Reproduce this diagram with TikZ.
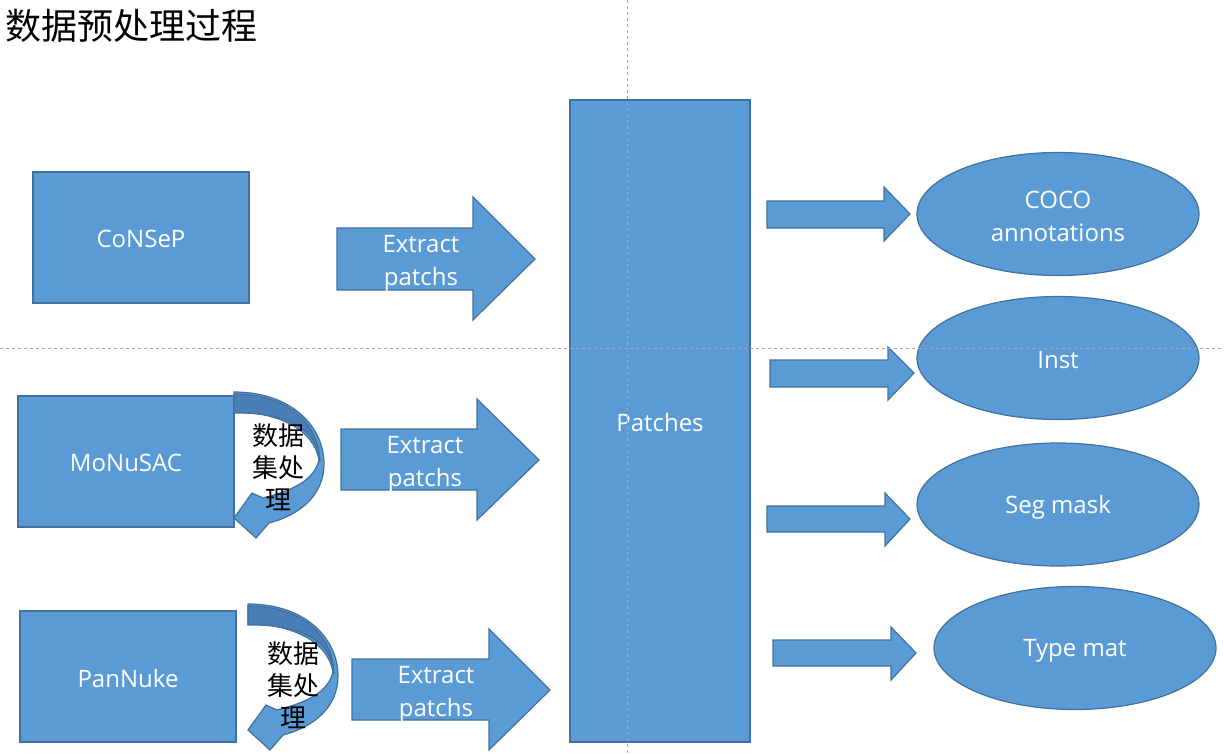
\documentclass[tikz,border=0pt]{standalone}
\usepackage{fontspec}
\setmainfont{Open Sans}
\newfontfamily\cjk{Noto Sans CJK SC}
\usetikzlibrary{shapes.geometric}
\definecolor{boxfill}{HTML}{5B9BD5}
\definecolor{boxline}{HTML}{41719C}
\definecolor{backfill}{HTML}{4A7EB8}
\definecolor{guide}{HTML}{A6A6A6}
\begin{document}
\begin{tikzpicture}[x=1pt,y=-1pt,
  shapebox/.style={draw=boxline, fill=boxfill, line width=1.2pt},
  backbox/.style={draw=boxline, fill=backfill, line width=1.2pt},
  rectnode/.style={shapebox, rectangle, inner sep=0pt},
  ellnode/.style={shapebox, ellipse, inner sep=0pt,
    minimum width=282pt, minimum height=123pt},
  lbl/.style={text=white, font=\fontsize{24}{33}\selectfont, align=center, inner sep=0pt},
  cnlbl/.style={text=black, font=\cjk\fontsize{26}{32}\selectfont, align=center, inner sep=0pt},
  guideline/.style={draw=guide, line width=0.8pt, dash pattern=on 3pt off 3pt}]
\useasboundingbox (0,0) rectangle (1224,755);

% title
\node[anchor=west, inner sep=0pt, font=\cjk\fontsize{36}{42}\selectfont] (title) at (5,26) {数据预处理过程};

% source boxes
\node[rectnode, minimum width=216pt, minimum height=131pt] (consep) at (141,237.5) {};
\node[lbl] at ([yshift=-1.5pt]consep.center) {CoNSeP};
\node[rectnode, minimum width=216pt, minimum height=131pt] (monusac) at (126,461.5) {};
\node[lbl] at ([yshift=-1.5pt]monusac.center) {MoNuSAC};
\node[rectnode, minimum width=216pt, minimum height=131pt] (pannuke) at (128,676.5) {};
\node[lbl] at ([yshift=-1.5pt]pannuke.center) {PanNuke};

% patches
\node[rectnode, minimum width=180pt, minimum height=642pt] (patches) at (660,421) {};
\node[lbl] at ([yshift=-1.5pt]patches.center) {Patches};

% outputs
\node[ellnode] (coco) at (1058,214) {};
\node[lbl] at ([yshift=-2.5pt]coco.center) {COCO\\annotations};
\node[ellnode] (inst) at (1058,358) {};
\node[lbl] at ([yshift=-2.5pt]inst.center) {Inst};
\node[ellnode] (seg) at (1058,504.5) {};
\node[lbl] at ([yshift=-2.5pt]seg.center) {Seg mask};
\node[ellnode] (type) at (1075,648) {};
\node[lbl] at ([yshift=-2.5pt]type.center) {Type mat};

% extract arrows
\draw[shapebox] (337,228) -- (473,228) -- (473,197) -- (535,259) -- (473,320) -- (473,290) -- (337,290) -- cycle;
\node[lbl] (ex1) at (421,263) {Extract\\patchs};
\draw[shapebox] (341,429) -- (477,429) -- (477,399) -- (539,460) -- (477,520) -- (477,490) -- (341,490) -- cycle;
\node[lbl] (ex2) at (425,464) {Extract\\patchs};
\draw[shapebox] (352,659) -- (489,659) -- (489,629) -- (550,690) -- (489,750) -- (489,720) -- (352,720) -- cycle;
\node[lbl] (ex3) at (436,694) {Extract\\patchs};

% small arrows
\draw[shapebox] (767,201) -- (884,201) -- (884,187) -- (910,214) -- (884,241) -- (884,228) -- (767,228) -- cycle;
\draw[shapebox] (770,360) -- (888,360) -- (888,347) -- (914,373) -- (888,400) -- (888,387) -- (770,387) -- cycle;
\draw[shapebox] (767,506) -- (885,506) -- (885,493) -- (910,519) -- (885,546) -- (885,532) -- (767,532) -- cycle;
\draw[shapebox] (773,640) -- (891,640) -- (891,627) -- (916,653) -- (891,680) -- (891,666) -- (773,666) -- cycle;

% curved arrows (dataset processing)
\foreach \ox/\oy in {234/392, 248/604} {
  \begin{scope}[shift={(\ox,\oy)}]
    \draw[shapebox] (0,0) .. controls (58,0) and (90,35) .. (90,72)
      .. controls (90,103) and (66,123) .. (35,131) -- (22,146) -- (0,126) -- (18,101) -- (29,106)
      .. controls (60,98) and (80,88) .. (85,68)
      .. controls (80,38) and (45,20) .. (0,20) -- cycle;
    \draw[backbox] (0,2) .. controls (52,2) and (85,30) .. (86,70)
      .. controls (84,38) and (55,20) .. (0,21) -- cycle;
  \end{scope}
}
\node[cnlbl] (proc1) at (278,467) {数据\\集处\\理};
\node[cnlbl] (proc2) at (293,685) {数据\\集处\\理};

% guides
\draw[guideline] (627,0) -- (627,755);
\draw[guideline] (0,348) -- (1224,348);
\end{tikzpicture}
\end{document}
